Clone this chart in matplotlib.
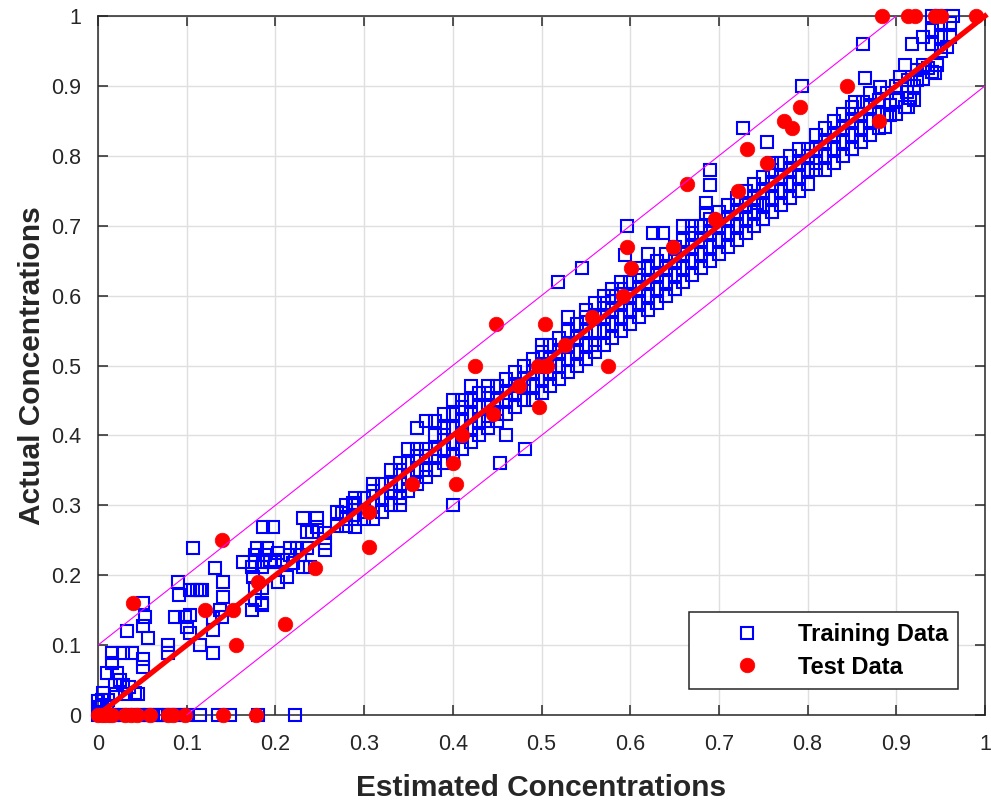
import numpy as np
import matplotlib.pyplot as plt

plt.rcParams['font.family'] = ['Liberation Sans', 'DejaVu Sans']

# training data: estimated (x) vs actual (y)
train_x = [
    # near zero, sitting on the axis
    0.0, 0.004, 0.008, 0.012, 0.016, 0.02, 0.025, 0.03, 0.035, 0.04, 0.045, 0.05,
    0.055, 0.06, 0.065, 0.07, 0.075, 0.08, 0.085, 0.09, 0.095, 0.1, 0.115, 0.135,
    0.149, 0.18, 0.222,
    # low region
    0.002, 0.005, 0.0, 0.01, 0.006, 0.011, 0.02, 0.03, 0.042, 0.019, 0.021, 0.016,
    0.028, 0.038, 0.051, 0.051, 0.016, 0.028, 0.033, 0.051, 0.053, 0.051, 0.056,
    0.079, 0.079, 0.087, 0.098, 0.1, 0.115, 0.13, 0.13, 0.09, 0.091, 0.107, 0.115,
    0.104, 0.112, 0.117, 0.104, 0.104, 0.107, 0.141, 0.141, 0.138, 0.13, 0.14,
    0.132, 0.163, 0.177, 0.186, 0.194, 0.179, 0.19, 0.177, 0.188, 0.174, 0.185,
    0.175, 0.185, 0.185, 0.174, 0.177, 0.177, 0.185, 0.213, 0.203, 0.2, 0.194,
    0.209, 0.22, 0.231, 0.239, 0.216, 0.228, 0.216, 0.224, 0.236, 0.203, 0.186,
    0.197, 0.231, 0.247, 0.247, 0.241, 0.236, 0.256, 0.256, 0.256, 0.275, 0.287,
    0.287, 0.29, 0.01, 0.025, 0.035, 0.045,
    # main band
    0.27, 0.27, 0.28, 0.28, 0.28, 0.29, 0.29, 0.29, 0.30, 0.30, 0.30,
    0.31, 0.31, 0.31, 0.31, 0.32, 0.32, 0.32, 0.33, 0.33, 0.33, 0.33,
    0.34, 0.34, 0.34, 0.34, 0.34, 0.35, 0.35, 0.35, 0.35,
    0.36, 0.36, 0.36, 0.36, 0.36, 0.37, 0.37, 0.37, 0.37, 0.37,
    0.38, 0.38, 0.38, 0.38, 0.38, 0.39, 0.39, 0.39, 0.39, 0.39,
    0.40, 0.40, 0.40, 0.40, 0.40, 0.40, 0.41, 0.41, 0.41, 0.41, 0.41,
    0.42, 0.42, 0.42, 0.42, 0.42, 0.43, 0.43, 0.43, 0.43,
    0.44, 0.44, 0.44, 0.44, 0.44, 0.453, 0.45, 0.45, 0.45, 0.45,
    0.46, 0.46, 0.46, 0.46, 0.46, 0.47, 0.47, 0.47, 0.47,
    0.481, 0.48, 0.48, 0.48, 0.48, 0.49, 0.49, 0.49, 0.49,
    0.50, 0.50, 0.50, 0.50, 0.50, 0.51, 0.51, 0.51, 0.51,
    0.52, 0.52, 0.52, 0.52, 0.519, 0.53, 0.53, 0.53, 0.53, 0.53,
    0.54, 0.54, 0.54, 0.54, 0.546, 0.55, 0.55, 0.55, 0.55, 0.55,
    0.56, 0.56, 0.56, 0.56, 0.56, 0.57, 0.57, 0.57, 0.57, 0.57,
    0.58, 0.58, 0.58, 0.58, 0.58, 0.59, 0.59, 0.59, 0.59, 0.59, 0.594,
    0.60, 0.60, 0.60, 0.60, 0.596, 0.61, 0.61, 0.61, 0.61, 0.61,
    0.62, 0.62, 0.62, 0.62, 0.62, 0.626, 0.63, 0.63, 0.63, 0.63, 0.637,
    0.64, 0.64, 0.64, 0.64, 0.65, 0.65, 0.65, 0.65,
    0.66, 0.66, 0.66, 0.66, 0.66, 0.67, 0.67, 0.67, 0.67, 0.67,
    0.68, 0.68, 0.68, 0.68, 0.686, 0.686, 0.69, 0.69, 0.69, 0.69, 0.69, 0.69,
    0.70, 0.70, 0.70, 0.70, 0.71, 0.71, 0.71, 0.71,
    0.72, 0.72, 0.72, 0.72, 0.727, 0.73, 0.73, 0.73, 0.73,
    0.74, 0.74, 0.74, 0.74, 0.743, 0.75, 0.75, 0.75, 0.75, 0.754,
    0.76, 0.76, 0.76, 0.76, 0.76, 0.77, 0.77, 0.77, 0.77,
    0.78, 0.78, 0.78, 0.78, 0.79, 0.79, 0.79, 0.79, 0.794,
    0.80, 0.80, 0.80, 0.80, 0.81, 0.81, 0.81, 0.81,
    0.82, 0.82, 0.82, 0.82, 0.83, 0.83, 0.83, 0.83,
    0.84, 0.84, 0.84, 0.84, 0.85, 0.853, 0.85, 0.85, 0.85,
    0.86, 0.86, 0.862, 0.86, 0.862, 0.865, 0.87, 0.87, 0.87, 0.87,
    0.88, 0.88, 0.882, 0.88, 0.887, 0.893, 0.893, 0.89, 0.89,
    0.90, 0.904, 0.90, 0.90, 0.91, 0.912, 0.915, 0.913, 0.913, 0.91,
    0.92, 0.923, 0.923, 0.918, 0.92, 0.93, 0.936, 0.93, 0.93,
    0.944, 0.946, 0.94, 0.94, 0.94, 0.94, 0.95, 0.95, 0.95, 0.95, 0.957,
    0.96, 0.96, 0.964,
]
train_y = [
    0.0, 0.0, 0.0, 0.0, 0.0, 0.0, 0.0, 0.0, 0.0, 0.0, 0.0, 0.0,
    0.0, 0.0, 0.0, 0.0, 0.0, 0.0, 0.0, 0.0, 0.0, 0.0, 0.0, 0.0,
    0.0, 0.0, 0.0,
    0.011, 0.021, 0.02, 0.011, 0.031, 0.021, 0.03, 0.03, 0.031, 0.043, 0.06, 0.074,
    0.043, 0.089, 0.08, 0.069, 0.089, 0.089, 0.12, 0.16, 0.14, 0.127, 0.11,
    0.1, 0.089, 0.14, 0.14, 0.126, 0.1, 0.122, 0.089, 0.19, 0.172, 0.179, 0.179,
    0.179, 0.179, 0.179, 0.143, 0.117, 0.239, 0.19, 0.169, 0.15, 0.139, 0.14,
    0.21, 0.219, 0.219, 0.219, 0.219, 0.239, 0.239, 0.229, 0.229, 0.212, 0.212,
    0.197, 0.182, 0.16, 0.15, 0.182, 0.165, 0.157, 0.197, 0.19, 0.219, 0.222,
    0.222, 0.217, 0.212, 0.212, 0.229, 0.229, 0.239, 0.239, 0.239, 0.232, 0.269,
    0.269, 0.282, 0.282, 0.269, 0.262, 0.262, 0.26, 0.246, 0.236, 0.289, 0.303,
    0.286, 0.269, 0.06, 0.05, 0.04, 0.03,
    0.27, 0.29, 0.27, 0.28, 0.30, 0.28, 0.30, 0.31, 0.28, 0.29, 0.31,
    0.28, 0.30, 0.32, 0.33, 0.29, 0.31, 0.33, 0.30, 0.32, 0.33, 0.35,
    0.30, 0.31, 0.33, 0.35, 0.36, 0.32, 0.34, 0.36, 0.38,
    0.33, 0.35, 0.37, 0.38, 0.41, 0.34, 0.35, 0.37, 0.38, 0.42,
    0.35, 0.37, 0.38, 0.40, 0.42, 0.36, 0.38, 0.40, 0.41, 0.43,
    0.30, 0.37, 0.39, 0.41, 0.43, 0.45, 0.38, 0.40, 0.42, 0.44, 0.45,
    0.39, 0.41, 0.43, 0.45, 0.47, 0.40, 0.42, 0.44, 0.46,
    0.41, 0.42, 0.44, 0.46, 0.47, 0.36, 0.42, 0.43, 0.45, 0.47,
    0.40, 0.43, 0.45, 0.46, 0.48, 0.44, 0.46, 0.47, 0.49,
    0.38, 0.45, 0.47, 0.48, 0.50, 0.45, 0.47, 0.49, 0.51,
    0.46, 0.48, 0.50, 0.52, 0.53, 0.47, 0.49, 0.51, 0.53,
    0.48, 0.50, 0.52, 0.54, 0.62, 0.49, 0.51, 0.53, 0.55, 0.57,
    0.50, 0.52, 0.54, 0.56, 0.64, 0.51, 0.53, 0.55, 0.57, 0.58,
    0.52, 0.53, 0.55, 0.57, 0.59, 0.53, 0.55, 0.57, 0.59, 0.60,
    0.54, 0.56, 0.58, 0.60, 0.61, 0.55, 0.57, 0.59, 0.61, 0.62, 0.658,
    0.56, 0.58, 0.60, 0.62, 0.70, 0.57, 0.59, 0.61, 0.63, 0.64,
    0.58, 0.60, 0.62, 0.64, 0.66, 0.69, 0.59, 0.61, 0.63, 0.65, 0.69,
    0.60, 0.62, 0.64, 0.66, 0.61, 0.63, 0.65, 0.67,
    0.62, 0.64, 0.66, 0.68, 0.70, 0.63, 0.65, 0.67, 0.69, 0.70,
    0.64, 0.66, 0.68, 0.70, 0.718, 0.732, 0.65, 0.67, 0.69, 0.71, 0.758, 0.78,
    0.66, 0.68, 0.70, 0.72, 0.67, 0.69, 0.71, 0.73,
    0.68, 0.70, 0.72, 0.74, 0.84, 0.69, 0.71, 0.73, 0.75,
    0.70, 0.72, 0.74, 0.76, 0.732, 0.71, 0.73, 0.75, 0.77, 0.82,
    0.72, 0.74, 0.76, 0.78, 0.79, 0.73, 0.75, 0.77, 0.79,
    0.74, 0.76, 0.78, 0.80, 0.75, 0.77, 0.79, 0.81, 0.90,
    0.76, 0.78, 0.80, 0.81, 0.78, 0.79, 0.81, 0.83,
    0.78, 0.80, 0.82, 0.84, 0.79, 0.81, 0.83, 0.85,
    0.80, 0.82, 0.84, 0.86, 0.81, 0.877, 0.83, 0.85, 0.87,
    0.82, 0.84, 0.877, 0.86, 0.96, 0.911, 0.83, 0.85, 0.87, 0.89,
    0.84, 0.86, 0.898, 0.88, 0.841, 0.858, 0.873, 0.86, 0.89,
    0.86, 0.913, 0.88, 0.90, 0.87, 0.891, 0.883, 0.87, 0.908, 0.93,
    0.88, 0.923, 0.908, 0.96, 0.90, 0.91, 0.925, 0.93, 0.97,
    0.918, 0.93, 0.92, 0.96, 0.98, 1.0, 0.95, 0.97, 0.99, 1.0, 0.955,
    0.97, 0.99, 1.0,
]

# test data
test_x = [0.0, 0.004, 0.008, 0.012, 0.016, 0.03, 0.037, 0.044, 0.059, 0.079, 0.085,
          0.098, 0.141, 0.178,
          0.04, 0.14, 0.121, 0.152, 0.156, 0.18, 0.211, 0.245, 0.305, 0.305,
          0.354, 0.40, 0.404, 0.41, 0.425, 0.445, 0.449, 0.475, 0.496, 0.497,
          0.504, 0.506, 0.504, 0.527, 0.557, 0.575, 0.592, 0.596, 0.601, 0.648,
          0.664, 0.696, 0.722, 0.732, 0.754, 0.773, 0.782, 0.791, 0.844, 0.881,
          0.884, 0.913, 0.921, 0.944, 0.95, 0.99]
test_y = [0.0, 0.0, 0.0, 0.0, 0.0, 0.0, 0.0, 0.0, 0.0, 0.0, 0.0,
          0.0, 0.0, 0.0,
          0.16, 0.25, 0.15, 0.15, 0.10, 0.19, 0.13, 0.21, 0.29, 0.24,
          0.33, 0.36, 0.33, 0.40, 0.50, 0.43, 0.56, 0.47, 0.50, 0.44,
          0.56, 0.50, 0.50, 0.53, 0.57, 0.50, 0.60, 0.67, 0.64, 0.67,
          0.76, 0.71, 0.75, 0.81, 0.79, 0.85, 0.84, 0.87, 0.90, 0.85,
          1.0, 1.0, 1.0, 1.0, 1.0, 1.0]

ticks = [0, 0.1, 0.2, 0.3, 0.4, 0.5, 0.6, 0.7, 0.8, 0.9, 1]
tick_labels = ['0', '0.1', '0.2', '0.3', '0.4', '0.5', '0.6', '0.7', '0.8', '0.9', '1']

fig = plt.figure(figsize=(9.91, 8.02), dpi=100)
ax = fig.add_axes([98 / 991, 87 / 802, 887 / 991, 699 / 802])

ax.plot(train_x, train_y, 's', color='none', markeredgecolor='#0000ff', markersize=8.8,
        markeredgewidth=1.5, clip_on=False, zorder=3, label='Training Data')
ax.plot(test_x, test_y, 'o', color='#ff0000', markeredgecolor='#ff0000', markersize=10.5,
        markeredgewidth=0.5, clip_on=False, zorder=4, label='Test Data')

line = np.array([0, 1])
ax.plot(line, line, '-', color='#ff0000', lw=3.8, zorder=5, clip_on=False)
ax.plot(line * 0.9, line * 0.9 + 0.1, '-', color='#ff00ff', lw=0.8, zorder=5)
ax.plot(line * 0.9 + 0.1, line * 0.9, '-', color='#ff00ff', lw=0.8, zorder=5)

ax.set_xlim(0, 1)
ax.set_ylim(0, 1)
ax.set_xticks(ticks)
ax.set_yticks(ticks)
ax.set_xticklabels(tick_labels)
ax.set_yticklabels(tick_labels)
ax.grid(True, color='#dfdfdf', lw=1.0)
ax.set_axisbelow(True)
ax.tick_params(direction='in', length=7, width=1.1, colors='#262626', labelsize=15.5,
               top=True, right=True)
ax.tick_params(axis='x', pad=14)
ax.tick_params(axis='y', pad=12)
for s in ax.spines.values():
    s.set_linewidth(1.1)
    s.set_color('#262626')

ax.set_xlabel('Estimated Concentrations', fontsize=21.5, fontweight='bold', color='#262626',
              labelpad=13)
ax.set_ylabel('Actual Concentrations', fontsize=21.5, fontweight='bold', color='#262626',
              labelpad=4)

leg = ax.legend(loc='lower right', bbox_to_anchor=(0.97, 0.037), borderaxespad=0,
                prop={'weight': 'bold', 'size': 17}, fancybox=False,
                edgecolor='#262626', framealpha=1, handletextpad=0.15, handlelength=4.0,
                borderpad=0.45, labelspacing=0.4)
leg.get_frame().set_linewidth(1.1)

fig.savefig('out.png', dpi=100)
